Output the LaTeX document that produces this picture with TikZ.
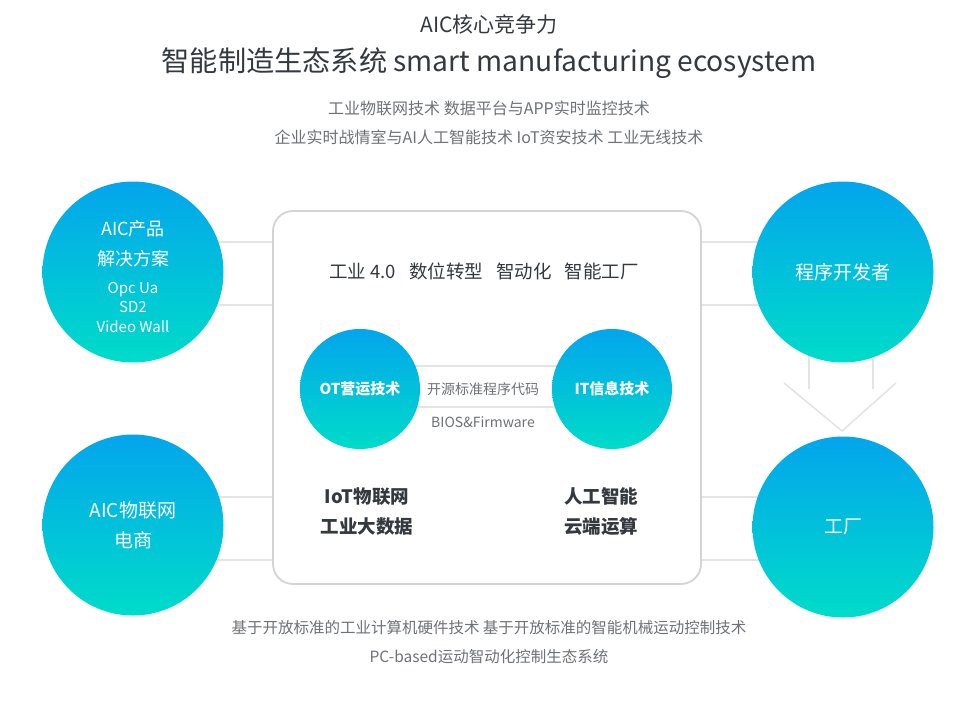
\documentclass[tikz,border=0pt]{standalone}
\usepackage{fontspec}
\setmainfont{Noto Sans CJK SC}
\usetikzlibrary{backgrounds}

\definecolor{topblue}{HTML}{03A5EC}
\definecolor{lowteal}{HTML}{00DCC9}
\definecolor{linegray}{HTML}{E4E4E4}
\definecolor{boxgray}{HTML}{D4D4D4}
\definecolor{inkdark}{HTML}{33393F}
\definecolor{inkgray}{HTML}{6E7175}

\newcommand\fsz[2]{\fontsize{#1}{#2}\selectfont}

\tikzset{
   ball/.style={circle, minimum size=#1, inner sep=0pt, top color=topblue,
      bottom color=lowteal, text=white, align=center},
   ball/.default=181pt,
   link/.style={draw=linegray, line width=1.6pt},
   lbl/.style={inner sep=0pt, align=center},
}

\begin{document}
\begin{tikzpicture}[x=1pt, y=-1pt]
   \useasboundingbox (0,0) rectangle (978,715);

   % headings
   \node[lbl, text=inkdark, font=\fsz{21}{24}] (kicker) at (489,25) {AIC核心竞争力};
   \node[lbl, text=inkdark, font=\fsz{28.2}{34}] (title) at (489,63)
      {智能制造生态系统 smart manufacturing ecosystem};
   \node[lbl, text=inkgray, font=\fsz{16}{20}] (sub1) at (489,108)
      {工业物联网技术 数据平台与APP实时监控技术};
   \node[lbl, text=inkgray, font=\fsz{16}{20}] (sub2) at (489,137)
      {企业实时战情室与AI人工智能技术 IoT资安技术 工业无线技术};

   % centre frame
   \node[draw=boxgray, line width=1.8pt, rounded corners=20pt,
      minimum width=428pt, minimum height=373pt] (box) at (487,397.5) {};
   \node[lbl, text=inkdark, font=\fsz{18.5}{22}] (goal) at (484,271)
      {工业\hspace{4pt}4.0\hspace{13pt}数位转型\hspace{13pt}智动化\hspace{13pt}智能工厂};

   % circles
   \node[ball, font=\fsz{15}{19.5}] (cp) at (133,272)
      {\fsz{18}{19.5}\rule{0pt}{24pt}AIC产品\\[10.5pt]\fsz{18}{19.5}解决方案\\[8.5pt]Opc Ua\\SD2\\Video Wall};
   \node[ball, font=\fsz{19}{30}] (shop) at (133,525) {AIC物联网\\电商};
   \node[ball, font=\fsz{19}{24}] (dev) at (843,272) {程序开发者};
   \node[ball, font=\fsz{19}{24}] (fab) at (843,527) {工厂};
   \node[ball=120pt, font=\fsz{15}{20}\bfseries] (ot) at (360,389) {OT营运技术};
   \node[ball=120pt, font=\fsz{15}{20}\bfseries] (it) at (612,389) {IT信息技术};

   \begin{scope}[on background layer]
      \foreach \u / \v / \h in {
         cp/box.west/242,
         cp/box.west/305,
         shop/box.west/497,
         shop/box.west/560,
         box.east/dev/242,
         box.east/dev/305,
         box.east/fab/497,
         box.east/fab/560,
         ot/it/366,
         ot/it/407} {
         \path[link] (\u |- 0,\h) -- (\v |- 0,\h);
      }
      \foreach \x in {809, 873} {
         \path[link] (dev.center -| \x,0) -- (\x,389);
      }
   \end{scope}

   % arrow towards the factory
   \coordinate (tip) at (842,431);
   \path[link] (tip) ++(-58,-48) -- (tip) -- ++(54,-48);

   \node[lbl, text=inkgray, font=\fsz{14}{18}] (code) at (483,389) {开源标准程序代码};
   \node[lbl, text=inkgray, font=\fsz{14}{18}] (bios) at (483,422) {BIOS\&Firmware};

   % inner topics
   \node[lbl, text=inkdark, font=\fsz{18.5}{30}\bfseries] (iot) at (367,512)
      {IoT物联网\\工业大数据};
   \node[lbl, text=inkdark, font=\fsz{18.5}{30}\bfseries] (ai) at (601,512)
      {人工智能\\云端运算};

   % footer
   \node[lbl, text=inkgray, font=\fsz{15.5}{20}] (foot1) at (489,628)
      {基于开放标准的工业计算机硬件技术 基于开放标准的智能机械运动控制技术};
   \node[lbl, text=inkgray, font=\fsz{15.5}{20}] (foot2) at (489,657)
      {PC-based运动智动化控制生态系统};
\end{tikzpicture}
\end{document}
